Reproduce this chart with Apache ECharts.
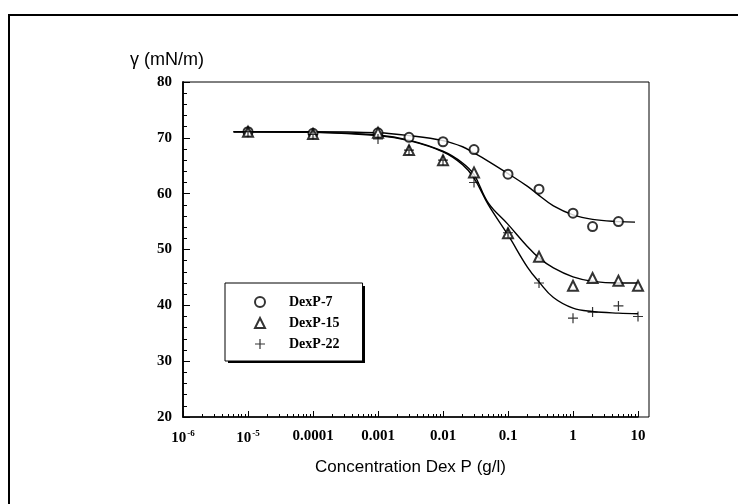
<!DOCTYPE html>
<html><head><meta charset="utf-8">
<script src="https://cdn.jsdelivr.net/npm/echarts@6/dist/echarts.min.js"></script>
<style>html,body{margin:0;padding:0;background:#fff}#c{width:738px;height:504px}</style>
</head><body><div id="c"></div>
<script>
// ---- data ----
const seriesNames = ['DexP-7', 'DexP-15', 'DexP-22'];
const conc = [1e-5, 1e-4, 1e-3, 3e-3, 0.01, 0.03, 0.1, 0.3, 1, 2, 5, 10];
const dexp7 = [71.1, 70.8, 70.9, 70.1, 69.3, 67.9, 63.5, 60.8, 56.5, 54.1, 55.0, null];
const dexp15 = [71.1, 70.7, 70.9, 67.8, 66.0, 63.8, 52.9, 48.7, 43.5, 44.9, 44.4, 43.5];
const dexp22 = [71.1, 70.6, 69.8, 67.8, 66.0, 62.0, 53.0, 44.0, 37.7, 38.8, 39.9, 38.0];

const fitX = [6e-6, 1e-5, 1e-4, 1e-3, 3e-3, 0.01, 0.02, 0.03, 0.05, 0.1, 0.2, 0.3, 0.5, 1, 2, 5, 10];
const fit7X = [6e-6, 1e-5, 1e-4, 1e-3, 3e-3, 0.01, 0.02, 0.03, 0.05, 0.1, 0.2, 0.3, 0.5, 1, 2, 5, 9];
const fit7 = [71.1, 71.1, 71.1, 70.9, 70.4, 69.5, 68.4, 67.3, 65.8, 63.6, 61.3, 59.7, 57.8, 56.2, 55.4, 55.0, 54.9];
const fit15 = [71.1, 71.1, 71.0, 70.5, 69.6, 67.6, 65.5, 63.4, 58.3, 54.5, 50.5, 48.5, 46.7, 45.1, 44.3, 44.0, 44.0];
const fit22 = [71.1, 71.1, 71.0, 70.4, 69.5, 67.5, 65.2, 62.8, 58.0, 52.6, 46.8, 44.2, 41.4, 39.5, 38.9, 38.6, 38.5];

const xTickLabels = ['10^-6', '10^-5', '0.0001', '0.001', '0.01', '0.1', '1', '10'];
const yTicks = [20, 30, 40, 50, 60, 70, 80];
const yTitle = 'γ (mN/m)';
const xTitle = 'Concentration Dex P (g/l)';

// ---- build ----
const pairs = (xs, ys) => xs.map((x, i) => [x, ys[i]]).filter(p => p[1] != null);
const plusPath = 'path://M4.4,0H5.6V4.4H10V5.6H5.6V10H4.4V5.6H0V4.4H4.4Z';
const serif = 'Liberation Serif';
const sans = 'Liberation Sans';

function xLabel(v) {
  const e = Math.round(Math.log10(v));
  const t = xTickLabels[e + 6];
  if (t === undefined) return '';
  if (t.indexOf('^') >= 0) {
    const p = t.split('^');
    return '{n|' + p[0] + '}{s|' + p[1] + '}';
  }
  return '{n|' + t + '}';
}

const chart = echarts.init(document.getElementById('c'), null, {renderer: 'canvas'});
const lineStyle = {color: '#000', width: 1.4};
chart.setOption({
  animation: false,
  backgroundColor: '#fff',
  title: {
    text: yTitle, left: 125, top: 46,
    textStyle: {fontFamily: sans, fontSize: 18, fontWeight: 'normal', color: '#000'}
  },
  grid: {left: 183, top: 82, width: 455, height: 335},
  legend: {
    orient: 'vertical', left: 225, top: 283,
    data: seriesNames,
    itemWidth: 10, itemHeight: 10, itemGap: 7,
    padding: [12, 23, 10, 29],
    borderColor: '#000', borderWidth: 1, backgroundColor: '#fff',
    formatter: name => '{sp|}{t|' + name + '}',
    textStyle: {
      fontFamily: serif, fontWeight: 'bold', fontSize: 14, color: '#000',
      rich: {
        sp: {width: 19},
        t: {fontFamily: serif, fontWeight: 'bold', fontSize: 14, color: '#000', lineHeight: 16}
      }
    }
  },
  xAxis: {
    type: 'log', logBase: 10, min: 1e-6, max: 10,
    name: xTitle, nameLocation: 'middle', nameGap: 42,
    nameTextStyle: {fontFamily: sans, fontSize: 17, color: '#000'},
    axisLine: {lineStyle: {color: '#000', width: 1.5}},
    axisTick: {inside: true, length: 6, lineStyle: {color: '#000'}},
    minorTick: {show: true, splitNumber: 9, length: 3, lineStyle: {color: '#000'}},
    splitLine: {show: false}, minorSplitLine: {show: false},
    axisLabel: {
      margin: 12, color: '#000', formatter: xLabel,
      rich: {
        n: {fontFamily: serif, fontWeight: 'bold', fontSize: 15, color: '#000'},
        s: {fontFamily: serif, fontWeight: 'bold', fontSize: 9, color: '#000', padding: [0, 0, 9, 1]}
      }
    }
  },
  yAxis: {
    type: 'value', min: yTicks[0], max: yTicks[yTicks.length - 1], interval: 10,
    axisLine: {show: true, lineStyle: {color: '#000', width: 1.8}},
    axisTick: {inside: true, length: 7, lineStyle: {color: '#000'}},
    minorTick: {show: true, splitNumber: 5, length: 4, lineStyle: {color: '#000'}},
    splitLine: {show: false},
    axisLabel: {margin: 11, color: '#000', fontFamily: serif, fontWeight: 'bold', fontSize: 15}
  },
  graphic: [
    {type: 'rect', shape: {x: 9, y: 15, width: 800, height: 600}, style: {fill: 'none', stroke: '#000', lineWidth: 2}, silent: true},
    {type: 'rect', shape: {x: 183, y: 82, width: 466, height: 335}, style: {fill: 'none', stroke: '#000', lineWidth: 1}, silent: true},
    {type: 'rect', shape: {x: 228, y: 286, width: 137, height: 77}, style: {fill: '#000'}, silent: true, z: 0}
  ],
  series: [
    {name: 'fit7', type: 'line', data: pairs(fit7X, fit7), smooth: 0.4, showSymbol: false, lineStyle: lineStyle, z: 2},
    {name: 'fit15', type: 'line', data: pairs(fitX, fit15), smooth: 0.4, showSymbol: false, lineStyle: lineStyle, z: 2},
    {name: 'fit22', type: 'line', data: pairs(fitX, fit22), smooth: 0.4, showSymbol: false, lineStyle: lineStyle, z: 2},
    {name: seriesNames[0], type: 'scatter', data: pairs(conc, dexp7), symbol: 'emptyCircle', symbolSize: 9,
      itemStyle: {color: '#000', borderWidth: 1.2}, z: 3},
    {name: seriesNames[1], type: 'scatter', data: pairs(conc, dexp15), symbol: 'emptyTriangle', symbolSize: 10,
      itemStyle: {color: '#000', borderWidth: 1.2}, z: 4},
    {name: seriesNames[2], type: 'scatter', data: pairs(conc, dexp22), symbol: plusPath, symbolSize: 10,
      itemStyle: {color: '#000'}, z: 5}
  ]
});
</script>
</body></html>
